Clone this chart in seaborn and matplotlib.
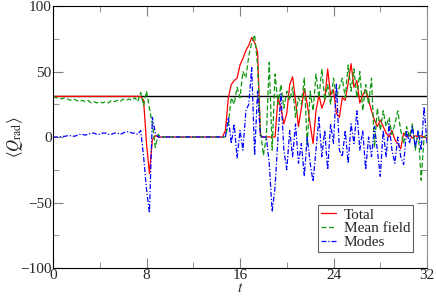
import numpy as np
import pandas as pd
import seaborn as sb
import matplotlib.pyplot as plt

# sample times (step 0.25 from 0 to 32)
t = np.arange(0, 32.01, 0.25)

total = [
    31, 31, 31, 31, 31, 31, 31, 31, 31, 31, 31, 31, 31, 31, 31, 31,
    31, 31, 31, 31, 31, 31, 31, 31, 31, 31, 31, 31, 31, 31, 31, 28,
    -5, -28, -2, 1, 0, 0, 0, 0, 0, 0, 0, 0, 0, 0, 0, 0,
    0, 0, 0, 0, 0, 0, 0, 0, 0, 0, 0, 5, 30, 40, 43, 45,
    55, 60, 66, 70, 76, 72, 65, 1, 0, 0, 0, 0, 0, 30, 22, 10,
    18, 40, 46, 28, 8, 22, 37, 25, 10, -5, 20, 32, 22, 28, 52, 32,
    36, 18, 15, 30, 28, 41, 56, 38, 43, 26, 32, 36, 28, 20, 13, 8,
    13, 8, 3, 0, 5, -2, -5, -9, 3, 0, 2, -1, 1, 0, 1, 0,
    -1,
]

mean_field = [
    31, 30, 30, 29, 30, 29, 28, 29, 28, 27, 28, 27, 28, 26, 27, 26,
    27, 26, 27, 26, 28, 27, 28, 27, 29, 28, 29, 28, 30, 27, 34, 24,
    35, 22, 10, -8, 2, 0, 0, 0, 0, 0, 0, 0, 0, 0, 0, 0,
    0, 0, 0, 0, 0, 0, 0, 0, 0, 0, 0, 0, 10, 30, 25, 38,
    30, 50, 45, 62, 72, 78, 55, 5, -14, 0, 57, -10, 48, 25, 40, 22,
    35, 28, 38, 15, 30, 25, 45, -7, 35, 20, 48, 30, 52, 28, 40, 25,
    45, 30, 38, 45, 30, 55, 35, 52, 30, 50, 20, 40, 25, 45, -8, 22,
    5, 20, 8, 15, 2, 10, 20, 5, -5, 8, 0, 10, -10, 5, -33, 0,
    2,
]

modes = [
    0, 0, 0, 0.5, 0.5, 1, 1, 0.5, 1, 2, 2, 1.5, 2, 3, 3, 2,
    2, 3, 3, 2, 2, 3, 3, 2, 3, 4, 4, 3, 3, 2, 5, -15,
    -40, -58, 15, 3, 0, 0, 0, 0, 0, 0, 0, 0, 0, 0, 0, 0,
    0, 0, 0, 0, 0, 0, 0, 0, 0, 0, 0, 0, 15, -5, 10, -16,
    5, -10, 20, 25, 53, -14, 35, 0, 0, 0, -20, -57, -38, 0, 33, -10,
    -25, 5, -15, 10, -20, -5, -30, 0, -20, -34, -10, 15, -15, 5, -25, 10,
    -5, 41, -10, -15, 5, -20, 10, -5, 20, -10, 5, -25, 0, -15, 8, -10,
    -30, 5, -15, 10, -10, -20, 0, -15, -21, 5, -5, 8, -8, 5, -10, 23,
    -5,
]

ref_level = 31

datos = pd.DataFrame({"t": t, "Total": total, "Mean field": mean_field, "Modes": modes})
largo = datos.melt(id_vars="t", var_name="serie", value_name="Q")

sb.set_style("ticks")
plt.rcParams["font.family"] = ["Liberation Serif", "DejaVu Serif"]
plt.rcParams["mathtext.fontset"] = "stix"

fig, ax = plt.subplots(figsize=(4.36, 2.96), dpi=100)
fig.subplots_adjust(left=0.1216, right=0.9794, top=0.9797, bottom=0.0946)

ax.axhline(ref_level, color="black", lw=1.0, zorder=1)

sb.lineplot(
    data=largo,
    x="t",
    y="Q",
    hue="serie",
    style="serie",
    palette={"Total": "#ff0000", "Mean field": "#109910", "Modes": "#0000ff"},
    dashes={"Total": "", "Mean field": (4, 2), "Modes": (4, 1.5, 1, 1.5)},
    linewidth=0.9,
    ax=ax,
)

ax.set_xlim(0, 32)
ax.set_ylim(-100, 100)
ax.set_xticks([0, 8, 16, 24, 32])
ax.set_xticks([4, 12, 20, 28], minor=True)
ax.set_yticks([-100, -50, 0, 50, 100])
ax.set_yticks([-75, -25, 25, 75], minor=True)
ax.tick_params(which="both", direction="in", top=True, right=True,
               labelsize=11, color="#808080", pad=1)
ax.tick_params(which="major", length=7)
ax.tick_params(which="minor", length=4)
for lado in ["left", "bottom", "top"]:
    ax.spines[lado].set_color("black")
ax.spines["right"].set_color("#909090")

ax.set_xlabel(r"$t$", fontsize=11)
ax.xaxis.set_label_coords(0.5, -0.052)
ax.set_ylabel(r"$\langle Q_{\rm rad}\rangle$", fontsize=12)
ax.yaxis.set_label_coords(-0.075, 0.5)

leg = ax.legend(loc="lower right", bbox_to_anchor=(0.963, 0.061), borderaxespad=0,
                fontsize=11, handlelength=1.0, handletextpad=0.5, labelspacing=0.0,
                borderpad=0.2, fancybox=False, framealpha=1, edgecolor="#606060")
leg.get_frame().set_linewidth(0.8)

plt.savefig("out.png", dpi=100)
